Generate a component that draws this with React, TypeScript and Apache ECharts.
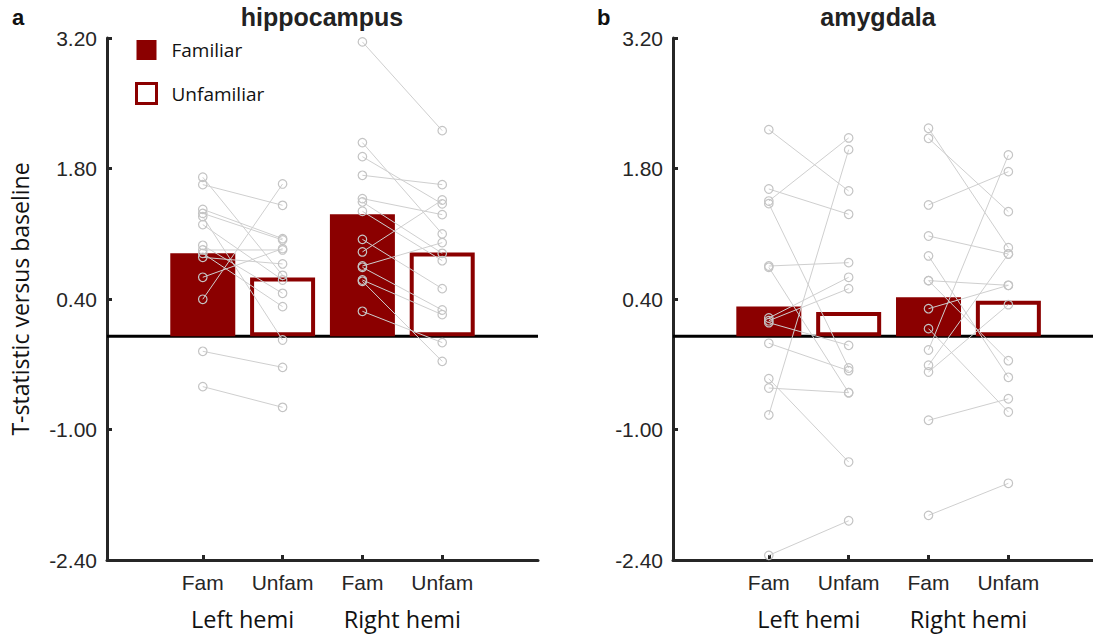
import React, { useEffect, useRef } from "react";
import * as echarts from "echarts";

// ---- data ----
const categories = ["Fam", "Unfam", "Fam", "Unfam"];
const xPositions = [1, 2, 3, 4];
const hemiLabels = ["Left hemi", "Right hemi"];
const hemiPositions = [1.5, 3.5];
const yTickMin = -2.4;
const yTickMax = 3.2;
const yTickStep = 1.4;

// bar means (Fam-L, Unfam-L, Fam-R, Unfam-R)
const hippoBars = [0.89, 0.63, 1.31, 0.9];
const amygBars = [0.32, 0.26, 0.42, 0.38];

// individual subjects (paired Fam -> Unfam)
const hippoLeftFam = [1.706, 1.627, 1.362, 1.319, 1.284, 1.198, 0.976, 0.926, 0.89, 0.847, 0.633, 0.397, -0.161, -0.54];
const hippoLeftUnfam = [0.654, 1.405, 1.048, 1.033, -0.04, 0.604, 0.461, 0.926, 0.318, 0.776, 0.94, 1.634, -0.333, -0.762];
const hippoRightFam = [3.158, 2.078, 1.927, 1.727, 1.477, 1.441, 1.341, 1.04, 0.905, 0.754, 0.74, 0.604, 0.59, 0.268];
const hippoRightUnfam = [2.206, 1.098, 1.42, 1.627, 1.305, 0.89, 0.811, 0.511, 1.462, 1.005, 0.282, 0.232, -0.269, -0.068];
const amygLeftFam = [2.217, 1.58, 1.451, 1.423, 0.754, 0.74, 0.196, 0.167, 0.146, -0.075, -0.455, -0.555, -0.844, -2.35];
const amygLeftUnfam = [1.559, 1.309, 2.128, -0.34, 0.79, -0.605, 0.633, 0.511, -0.097, -0.369, -1.349, -0.605, 2.002, -1.979];
const amygRightFam = [2.232, 2.124, 1.409, 1.076, 0.862, 0.597, 0.597, 0.296, 0.082, -0.147, -0.311, -0.383, -0.901, -1.921];
const amygRightUnfam = [0.951, 1.337, 1.766, 0.883, -0.44, 0.547, -0.262, 0.547, -0.812, 1.945, 0.883, 0.339, -0.67, -1.577];

const RED = "#8b0000";
const AXIS = "#262626";
const NUM_FONT = "'Liberation Sans', Arial, Helvetica, sans-serif";
const TEXT_FONT = "'Open Sans', 'Noto Sans', sans-serif";

function buildPanel(
  gi: number,
  xAxisIdx: number,
  bars: number[],
  left: [number[], number[]],
  right: [number[], number[]],
  xMin: number,
  xMax: number
) {
  const series: any[] = [];
  series.push({
    type: "line",
    xAxisIndex: xAxisIdx,
    yAxisIndex: gi,
    data: [
      [xMin, 0],
      [xMax, 0],
    ],
    symbol: "none",
    silent: true,
    lineStyle: { color: "#000", width: 3 },
    z: 1,
  });
  series.push({
    name: "Familiar",
    type: "bar",
    xAxisIndex: xAxisIdx,
    yAxisIndex: gi,
    barWidth: 65,
    barGap: "-100%",
    data: [
      [xPositions[0], bars[0]],
      [xPositions[2], bars[2]],
    ],
    itemStyle: { color: RED, borderWidth: 0 },
    z: 2,
  });
  series.push({
    name: "Unfamiliar",
    type: "bar",
    xAxisIndex: xAxisIdx,
    yAxisIndex: gi,
    barWidth: 65,
    barGap: "-100%",
    data: [
      [xPositions[1], bars[1]],
      [xPositions[3], bars[3]],
    ],
    itemStyle: { color: "#ffffff", borderColor: RED, borderWidth: 4 },
    z: 2,
  });
  const hemis = [left, right];
  hemis.forEach((pair, h) => {
    const fam = pair[0];
    const unfam = pair[1];
    fam.forEach((v, i) => {
      series.push({
        type: "line",
        xAxisIndex: xAxisIdx,
        yAxisIndex: gi,
        data: [
          [xPositions[2 * h], v],
          [xPositions[2 * h + 1], unfam[i]],
        ],
        symbol: "circle",
        symbolSize: 8.5,
        silent: true,
        itemStyle: { color: "rgba(255,255,255,0)", borderColor: "#c4c4c4", borderWidth: 1.2 },
        lineStyle: { color: "#cfcfcf", width: 1 },
        z: 3,
      });
    });
  });
  return series;
}

function mainXAxis(gi: number, xMin: number, xMax: number) {
  return {
    type: "value",
    gridIndex: gi,
    min: xMin,
    max: xMax,
    position: "bottom",
    axisLine: { show: true, onZero: false, lineStyle: { color: AXIS, width: 3 } },
    axisTick: {
      show: true,
      inside: true,
      length: 5,
      customValues: xPositions,
      lineStyle: { color: AXIS, width: 3 },
    },
    axisLabel: {
      customValues: xPositions,
      formatter: (v: number) => categories[xPositions.indexOf(v)] ?? "",
      fontFamily: NUM_FONT,
      fontSize: 21,
      color: AXIS,
      margin: 12,
    },
    splitLine: { show: false },
  };
}

function hemiXAxis(gi: number, xMin: number, xMax: number) {
  return {
    type: "value",
    gridIndex: gi,
    min: xMin,
    max: xMax,
    position: "bottom",
    axisLine: { show: false, onZero: false },
    axisTick: { show: false },
    axisLabel: {
      customValues: hemiPositions,
      formatter: (v: number) => hemiLabels[hemiPositions.indexOf(v)] ?? "",
      fontFamily: TEXT_FONT,
      fontSize: 23.5,
      color: "#111",
      margin: 47,
    },
    splitLine: { show: false },
  };
}

function yAxisOf(gi: number, withName: boolean) {
  return {
    type: "value",
    gridIndex: gi,
    min: yTickMin,
    max: yTickMax,
    interval: yTickStep,
    name: withName ? "T-statistic versus baseline" : "",
    nameLocation: "middle",
    nameRotate: 90,
    nameGap: 76,
    nameTextStyle: { fontFamily: TEXT_FONT, fontSize: 23, color: "#111" },
    axisLine: { show: true, onZero: false, lineStyle: { color: AXIS, width: 3 } },
    axisTick: { show: true, inside: true, length: 5, lineStyle: { color: AXIS, width: 3 } },
    axisLabel: {
      formatter: (v: number) => v.toFixed(2),
      fontFamily: NUM_FONT,
      fontSize: 21,
      color: AXIS,
      margin: 10,
    },
    splitLine: { show: false },
  };
}

export default function App() {
  const ref = useRef<HTMLDivElement>(null);
  useEffect(() => {
    if (!ref.current) return;
    const chart = echarts.init(ref.current, undefined, { renderer: "svg" });
    const lMin = -0.2;
    const lMax = 5.2;
    const rMin = -0.2;
    const rMax = 5.06;
    const series = [
      ...buildPanel(0, 0, hippoBars, [hippoLeftFam, hippoLeftUnfam], [hippoRightFam, hippoRightUnfam], lMin, lMax),
      ...buildPanel(1, 2, amygBars, [amygLeftFam, amygLeftUnfam], [amygRightFam, amygRightUnfam], rMin, rMax),
    ];
    chart.setOption({
      animation: false,
      backgroundColor: "#ffffff",
      grid: [
        { left: 107, top: 38, width: 431, height: 522 },
        { left: 673, top: 38, right: 0, height: 522 },
      ],
      xAxis: [mainXAxis(0, lMin, lMax), hemiXAxis(0, lMin, lMax), mainXAxis(1, rMin, rMax), hemiXAxis(1, rMin, rMax)],
      yAxis: [yAxisOf(0, true), yAxisOf(1, false)],
      legend: {
        data: [
          { name: "Familiar" },
          { name: "Unfamiliar", itemStyle: { borderWidth: 3 } },
        ],
        orient: "vertical",
        left: 135,
        top: 40,
        padding: 0,
        icon: "rect",
        itemWidth: 20,
        itemHeight: 20,
        itemGap: 22,
        selectedMode: false,
        textStyle: { fontFamily: TEXT_FONT, fontSize: 19, color: "#111", padding: [0, 0, 0, 10] },
      },
      graphic: [
        { type: "text", x: 12, y: 6, style: { text: "a", font: `bold 22px ${NUM_FONT}`, fill: "#111" } },
        { type: "text", x: 597, y: 6, style: { text: "b", font: `bold 22px ${NUM_FONT}`, fill: "#111" } },
        {
          type: "text",
          x: 322,
          y: 4,
          style: { text: "hippocampus", font: `bold 25px ${NUM_FONT}`, fill: "#222", textAlign: "center" },
        },
        {
          type: "text",
          x: 878,
          y: 4,
          style: { text: "amygdala", font: `bold 25px ${NUM_FONT}`, fill: "#222", textAlign: "center" },
        },
      ],
      series,
    });
    return () => chart.dispose();
  }, []);
  return (
    <div
      ref={ref}
      style={{ position: "fixed", left: 0, top: 0, width: 1093, height: 636, background: "#fff" }}
    />
  );
}
